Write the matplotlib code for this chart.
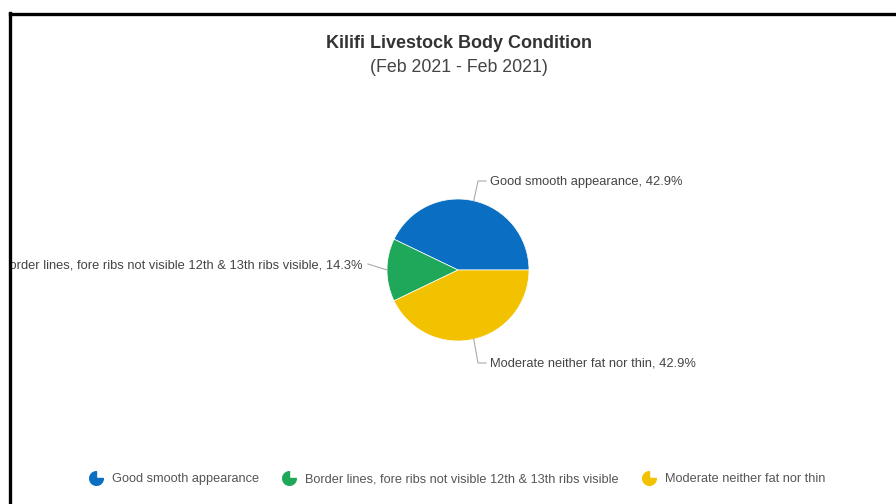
import numpy as np
import matplotlib.pyplot as plt
from matplotlib.lines import Line2D
from matplotlib.patches import Rectangle
from matplotlib.path import Path

plt.rcParams['font.family'] = ['Liberation Sans', 'DejaVu Sans']

categories = ["Good smooth appearance",
              "Border lines, fore ribs not visible 12th & 13th ribs visible",
              "Moderate neither fat nor thin"]
counts = [3, 1, 3]
colors = ["#0a6fc2", "#20a85a", "#f2c200"]

W, H = 896, 504
fig = plt.figure(figsize=(W / 100, H / 100), dpi=100)
ax = fig.add_axes([0, 0, 1, 1])

cx, cy, r = 458, H - 270, 71
wedges, _ = ax.pie(counts, colors=colors, startangle=0, counterclock=True,
                   center=(cx, cy), radius=r, frame=True,
                   wedgeprops=dict(linewidth=0.5, edgecolor='white'))
ax.set_xlim(0, W)
ax.set_ylim(0, H)
ax.set_aspect('equal')
ax.axis('off')

pct = np.array(counts) / sum(counts) * 100
# elbow point relative to the centre, and text side
elbows = [(20, 89, 'left'), (-90, 6, 'right'), (20, -93, 'left')]
for w, cat, p, (ex, ey, side) in zip(wedges, categories, pct, elbows):
    ang = np.deg2rad((w.theta1 + w.theta2) / 2)
    x0, y0 = cx + r * np.cos(ang), cy + r * np.sin(ang)
    if side == 'left':
        xs = [x0, cx + ex, cx + ex + 8]
        ys = [y0, cy + ey, cy + ey]
        tx = cx + ex + 12
        ha = 'left'
    else:
        xs = [x0, cx + ex]
        ys = [y0, cy + ey]
        tx = cx + ex - 6
        ha = 'right'
    ax.plot(xs, ys, color='#aaaaaa', lw=0.8)
    ax.text(tx, cy + ey - 1, f"{cat}, {p:.1f}%", ha=ha, va='center',
            fontsize=9.3, color='#444444')

fig.text(0.512, 1 - 44 / H, "Kilifi Livestock Body Condition",
         ha='center', va='center', fontsize=13, fontweight='bold', color='#333333')
fig.text(0.512, 1 - 67 / H, "(Feb 2021 - Feb 2021)",
         ha='center', va='center', fontsize=12.8, color='#444444')

# pie-shaped legend icons
icon = Path.wedge(90, 360)
handles = [Line2D([], [], ls='none', marker=icon, markersize=10,
                  markerfacecolor=c, markeredgecolor=c) for c in colors]
fig.legend(handles, categories, loc='center', bbox_to_anchor=(0.511, 1 - 479 / H),
           ncol=3, frameon=False, fontsize=9.2, labelcolor='#555555',
           handlelength=0.9, handletextpad=0.8, columnspacing=1.9)

# white margin left of the frame, then the frame lines
fig.add_artist(Rectangle((0, 0), 10 / W, 1, transform=fig.transFigure,
                         facecolor='white', edgecolor='none', zorder=5))
fig.add_artist(Line2D([10 / W, 10 / W], [0, 1 - 13 / H], color='black', lw=2.4, zorder=6))
fig.add_artist(Line2D([10 / W, 1], [1 - 14 / H, 1 - 14 / H], color='black', lw=2.4, zorder=6))

fig.savefig("out.png", dpi=100)
